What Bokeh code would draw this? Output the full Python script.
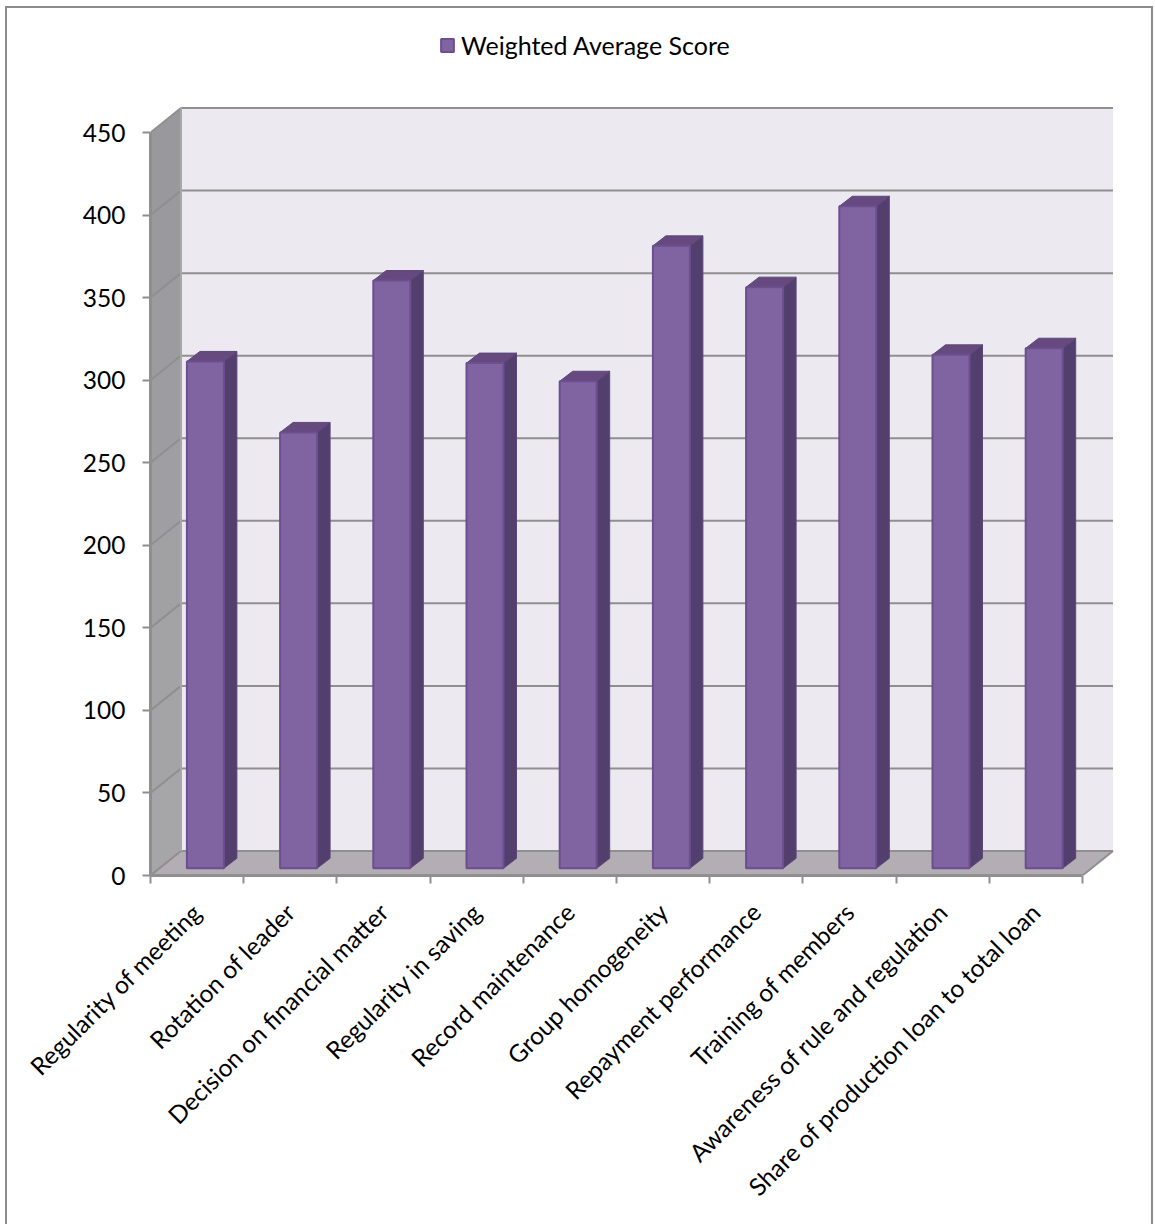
from bokeh.embed import file_html
from bokeh.models import FixedTicker, Legend, LegendItem, LinearAxis, Range1d
from bokeh.plotting import figure
from bokeh.resources import INLINE

categories = [
    "Regularity of meeting", "Rotation of leader", "Decision on financial matter",
    "Regularity in saving", "Record maintenance", "Group homogeneity",
    "Repayment performance", "Training of members", "Awareness of rule and regulation",
    "Share of production loan to total loan",
]
scores = [307, 264, 356, 306, 295, 377, 352, 401, 311, 315]
y_ticks = [0, 50, 100, 150, 200, 250, 300, 350, 400, 450]

PX_X = 93.2    # pixels per category
PX_Y = 1.651   # pixels per score unit

# oblique projection of the box the bars stand in
WALL_DX, WALL_DY = 30.5 / PX_X, 24.5 / PX_Y
BAR_DX, BAR_DY = 13 / PX_X, 10 / PX_Y
BAR_SHIFT, BAR_BASE = 8.3 / PX_X, 7.2 / PX_Y
BAR_W = 37 / PX_X
WALL_TOP = 450 + WALL_DY + 0.6
N = len(categories)

GRID = "#8f8f8f"
FRAME_W, FRAME_H = 975, 855
FONT_PX = "24.5px"

p = figure(
    width=1155, height=1224, output_backend="svg", toolbar_location=None,
    x_range=Range1d(0, FRAME_W / PX_X), y_range=Range1d(0, FRAME_H / PX_Y),
    x_axis_type=None, y_axis_type=None,
    min_border_left=150, min_border_right=30, min_border_top=20, min_border_bottom=349,
    outline_line_color=None, background_fill_color=None, border_fill_color="white",
)
p.xgrid.visible = False
p.ygrid.visible = False

# box: back wall, side wall (shaded lighter toward the floor), floor
p.patch([WALL_DX, N + WALL_DX, N + WALL_DX, WALL_DX], [WALL_DY, WALL_DY, WALL_TOP, WALL_TOP],
        fill_color="#ece9f1", line_color=None)
wall_shades = ["#a6a5a8", "#a4a3a6", "#a3a2a5", "#a1a0a3", "#9f9ea2",
               "#9d9ca0", "#9c9b9f", "#9a999d", "#99989c"]
for low, high, shade in zip(y_ticks[:-1], y_ticks[1:], wall_shades):
    p.patch([0, WALL_DX, WALL_DX, 0], [low, low + WALL_DY, high + WALL_DY, high],
            fill_color=shade, line_color=None)
p.patch([0, WALL_DX, N + WALL_DX, N], [0, WALL_DY, WALL_DY, 0],
        fill_color="#b3aeb3", line_color=None)

# gridlines fold from the side wall onto the back wall
p.multi_line([[0, WALL_DX, N + WALL_DX] for _ in y_ticks],
             [[t, t + WALL_DY, t + WALL_DY] for t in y_ticks],
             line_color=GRID, line_width=2)
p.line([WALL_DX, WALL_DX], [WALL_DY, WALL_TOP], line_color="#a8a8aa", line_width=2)
p.line([N, N + WALL_DX], [0, WALL_DY], line_color=GRID, line_width=2)

# bars: side face, top face, then the front face that carries the legend entry
x_left = [i + 0.5 + BAR_SHIFT - BAR_W / 2 for i in range(N)]
x_right = [i + 0.5 + BAR_SHIFT + BAR_W / 2 for i in range(N)]
side_x = [[r, r + BAR_DX, r + BAR_DX, r] for r in x_right]
side_y = [[BAR_BASE, BAR_BASE + BAR_DY, BAR_BASE + s + BAR_DY, BAR_BASE + s] for s in scores]
top_x = [[l, l + BAR_DX, r + BAR_DX, r] for l, r in zip(x_left, x_right)]
top_y = [[BAR_BASE + s, BAR_BASE + s + BAR_DY, BAR_BASE + s + BAR_DY, BAR_BASE + s] for s in scores]
p.patches(side_x, side_y, fill_color="#533f6e", line_color="#5d4779", line_width=1)
p.patches(top_x, top_y, fill_color="#65497f", line_color="#5d4779", line_width=1)
front = p.vbar(
    x=[i + 0.5 + BAR_SHIFT for i in range(N)], width=BAR_W,
    bottom=BAR_BASE, top=[BAR_BASE + s for s in scores],
    fill_color="#8063a1", line_color="#6b4f8e", line_width=2,
)

y_axis = LinearAxis(
    ticker=FixedTicker(ticks=y_ticks), bounds=(0, 450),
    axis_line_color=GRID, axis_line_width=3,
    major_tick_line_color=GRID, major_tick_line_width=2,
    major_tick_in=0, major_tick_out=8, minor_tick_line_color=None,
    major_label_text_font="Lato", major_label_text_font_size=FONT_PX,
    major_label_text_color="#000000", major_label_standoff=17,
)
p.add_layout(y_axis, "left")

# labels sit at the category centres, tick marks at the category edges
x_axis = LinearAxis(
    ticker=FixedTicker(ticks=[i + 0.5 for i in range(N)], minor_ticks=list(range(N + 1))),
    major_label_overrides={i + 0.5: c for i, c in enumerate(categories)},
    bounds=(0, N),
    axis_line_color=GRID, axis_line_width=3,
    major_tick_line_color=None, major_tick_in=0, major_tick_out=0,
    minor_tick_line_color=GRID, minor_tick_line_width=2,
    minor_tick_in=0, minor_tick_out=8,
    major_label_orientation=0.7854, major_label_standoff=24,
    major_label_text_font="Lato", major_label_text_font_size=FONT_PX,
    major_label_text_color="#000000",
)
p.add_layout(x_axis, "below")

legend = Legend(
    items=[LegendItem(label="Weighted Average Score", renderers=[front])],
    location=(289, 815), orientation="horizontal",
    border_line_color=None, background_fill_color=None, background_fill_alpha=0,
    label_text_font="Lato", label_text_font_size="25px", label_text_color="#000000",
    glyph_width=16, glyph_height=16, label_standoff=6, margin=0, padding=0,
)
p.add_layout(legend, "center")

# chart-area border, open at the foot of the page
p.stylesheets = [
    ":host::after { content: ''; position: absolute; left: 5px; top: 6px; "
    "width: 1148px; height: 1218px; box-sizing: border-box; "
    "border: 2px solid #8c8c8c; border-bottom: none; pointer-events: none; }"
]

open("out.html", "w").write(file_html(p, INLINE))
